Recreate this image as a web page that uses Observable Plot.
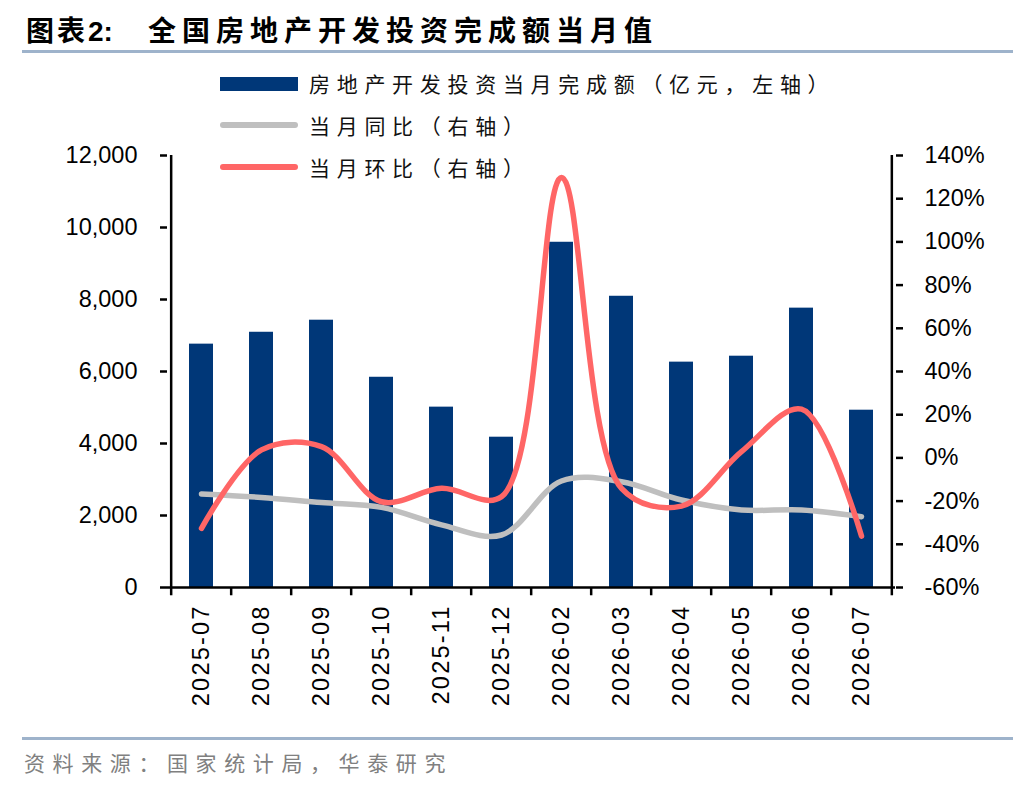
<!DOCTYPE html>
<html><head><meta charset="utf-8">
<script src="https://cdn.jsdelivr.net/npm/d3@7"></script>
<script src="https://cdn.jsdelivr.net/npm/@observablehq/plot@0.6"></script>
<style>
body{margin:0;background:#fff;}
#wrap{position:relative;width:1036px;height:792px;overflow:hidden;font-family:"Noto Sans CJK SC",sans-serif;background:#fff;}
#chart{position:absolute;left:0;top:0;}
.title{position:absolute;top:9px;font-size:28px;font-weight:700;color:#000;white-space:nowrap;line-height:40px;}
.rule{position:absolute;left:22px;width:991px;height:3px;background:#9EB3CB;}
.leg{position:absolute;left:220px;width:78px;}
.legtxt{position:absolute;left:309px;font-size:21px;letter-spacing:6.7px;color:#111;white-space:nowrap;line-height:30px;}
#source{position:absolute;left:24px;top:747px;font-size:21px;letter-spacing:7.6px;color:#808080;white-space:nowrap;line-height:30px;}
</style></head><body>
<div id="wrap">
  <div id="chart"></div>
  <div class="title" style="left:26px;letter-spacing:3px">图表<span style="font-family:'Liberation Sans',Arial,sans-serif;font-weight:700;letter-spacing:0">2:</span></div>
  <div class="title" style="left:148px;letter-spacing:6px">全国房地产开发投资完成额当月值</div>
  <div class="rule" style="top:50px"></div>
  <div class="leg" style="top:77px;height:14px;background:#003778"></div>
  <div class="legtxt" style="top:68px">房地产开发投资当月完成额（亿元，左轴）</div>
  <div class="leg" style="top:122px;height:6px;border-radius:3px;background:#BFBFBF"></div>
  <div class="legtxt" style="top:110px">当月同比（右轴）</div>
  <div class="leg" style="top:164px;height:6px;border-radius:3px;background:#FF6666"></div>
  <div class="legtxt" style="top:152px">当月环比（右轴）</div>
  <div class="rule" style="top:737px"></div>
  <div id="source">资料来源：国家统计局，华泰研究</div>
</div>
<script>
const months = ["2025-07","2025-08","2025-09","2025-10","2025-11","2025-12","2026-02","2026-03","2026-04","2026-05","2026-06","2026-07"];
const investment = [6760, 7090, 7425, 5840, 5010, 4175, 9590, 8090, 6260, 6425, 7760, 4925];
const yoy = [-16.7, -18.3, -20.7, -22.9, -31.0, -35.7, -10.7, -11.0, -19.5, -24.1, -24.1, -27.2];
const mom = [-32.6, 3.7, 5.2, -20.3, -14.1, -18.0, 129.8, -14.1, -22.3, 2.9, 22.6, -36.2];
const leftTicks = [0, 2000, 4000, 6000, 8000, 10000, 12000];
const rightTicks = [-60, -40, -20, 0, 20, 40, 60, 80, 100, 120, 140];

const W = 1036, H = 792, mL = 167, mR = 141, mT = 155, mB = 205;
const step = (W - mL - mR) / months.length;
const toLeft = p => (p + 60) * 60;   // map -60..140% onto 0..12000
const fromLeft = v => v / 60 - 60;

const data = months.map((m, i) => ({month: m, inv: investment[i], yoy: toLeft(yoy[i]), mom: toLeft(mom[i])}));
const numFont = "Liberation Sans, Arial, sans-serif";

const chart = Plot.plot({
  width: W, height: H,
  marginLeft: mL, marginRight: mR, marginTop: mT, marginBottom: mB,
  style: {background: "transparent", overflow: "visible"},
  x: {type: "band", domain: months, paddingInner: 0.6, paddingOuter: 0.3, axis: null},
  y: {domain: [0, 12000], axis: null},
  marks: [
    Plot.barY(data, {x: "month", y: "inv", fill: "#003778"}),
    Plot.line(data, {x: "month", y: "yoy", stroke: "#BFBFBF", strokeWidth: 5.5, curve: "catmull-rom", strokeLinecap: "round"}),
    Plot.line(data, {x: "month", y: "mom", stroke: "#FF6666", strokeWidth: 5.5, curve: "catmull-rom", strokeLinecap: "round"}),
    Plot.ruleY([0], {stroke: "#000", strokeWidth: 2.5}),
    Plot.ruleX([months[0]], {dx: -step / 2, y1: 0, y2: 12000, stroke: "#000", strokeWidth: 2.5}),
    Plot.ruleX([months[months.length - 1]], {dx: step / 2, y1: 0, y2: 12000, stroke: "#000", strokeWidth: 2.5}),
    Plot.ruleX(months, {dx: -step / 2, y1: 0, y2: -230, stroke: "#000", strokeWidth: 2.5}),
    Plot.ruleX([months[months.length - 1]], {dx: step / 2, y1: 0, y2: -230, stroke: "#000", strokeWidth: 2.5}),
    Plot.axisY({anchor: "left", ticks: leftTicks, tickFormat: d3.format(","), tickSize: 7, tickPadding: 23,
      fontSize: 23.5, fontFamily: numFont, strokeWidth: 2.5, stroke: "#000", fill: "#000", label: null}),
    Plot.axisY({anchor: "right", ticks: rightTicks.map(toLeft), tickFormat: v => Math.round(fromLeft(v)) + "%", tickSize: 7, tickPadding: 22,
      fontSize: 23.5, fontFamily: numFont, strokeWidth: 2.5, stroke: "#000", fill: "#000", label: null}),
    Plot.axisX({tickRotate: -90, tickSize: 0, tickPadding: 17, fontSize: 23.5, fontFamily: numFont, fill: "#000", label: null,
      className: "xlab"})
  ]
});
d3.select(chart).selectAll("g[aria-label='x-axis tick label'] text, .xlab text").style("letter-spacing", "2.2px");
document.getElementById("chart").appendChild(chart);
</script>
</body></html>
